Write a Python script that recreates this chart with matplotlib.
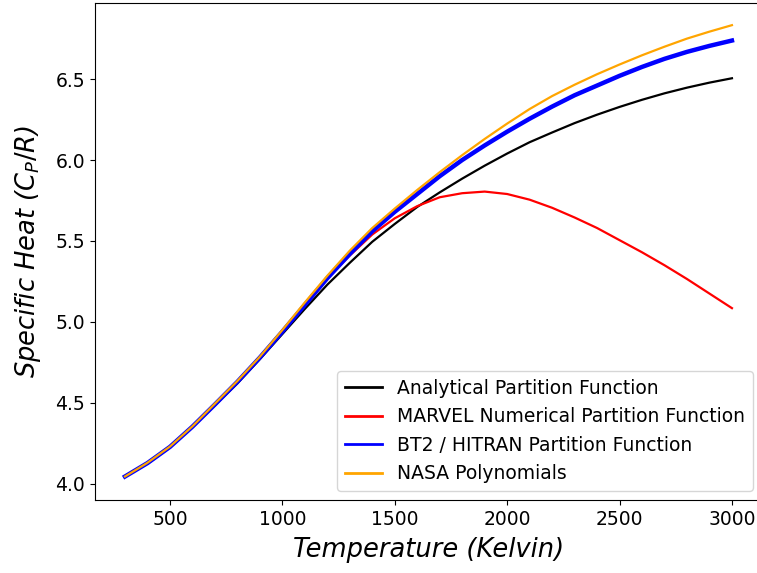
import matplotlib
matplotlib.use('Agg')
import matplotlib.pyplot as plt

# temperature grid (K)
T = [300, 400, 500, 600, 700, 800, 900, 1000, 1100, 1200, 1300, 1400, 1500,
     1600, 1700, 1800, 1900, 2000, 2100, 2200, 2300, 2400, 2500, 2600, 2700,
     2800, 2900, 3000]

# Cp/R
cp_analytical = [4.045, 4.125, 4.225, 4.35, 4.485, 4.62, 4.77, 4.925, 5.08, 5.23,
                 5.365, 5.495, 5.605, 5.71, 5.80, 5.885, 5.965, 6.04, 6.11, 6.17,
                 6.228, 6.28, 6.328, 6.372, 6.412, 6.447, 6.478, 6.505]
cp_marvel = [4.045, 4.128, 4.228, 4.353, 4.49, 4.63, 4.78, 4.94, 5.105, 5.27,
             5.41, 5.54, 5.64, 5.715, 5.77, 5.795, 5.805, 5.79, 5.755, 5.705,
             5.645, 5.58, 5.505, 5.43, 5.35, 5.265, 5.175, 5.085]
cp_bt2 = [4.045, 4.128, 4.228, 4.353, 4.49, 4.63, 4.78, 4.94, 5.105, 5.27,
          5.42, 5.56, 5.68, 5.79, 5.90, 6.00, 6.09, 6.175, 6.255, 6.33,
          6.40, 6.46, 6.52, 6.575, 6.625, 6.668, 6.705, 6.738]
cp_nasa = [4.045, 4.13, 4.23, 4.355, 4.495, 4.635, 4.785, 4.95, 5.12, 5.285,
           5.44, 5.58, 5.70, 5.815, 5.925, 6.03, 6.13, 6.225, 6.315, 6.395,
           6.465, 6.53, 6.59, 6.647, 6.70, 6.75, 6.793, 6.833]

fig = plt.figure(figsize=(7.57, 5.73), dpi=100)
ax = fig.add_axes([0.125, 0.1274, 0.882, 0.8674])

ax.plot(T, cp_analytical, color='black', lw=1.6, label='Analytical Partition Function')
ax.plot(T, cp_marvel, color='red', lw=1.6, label='MARVEL Numerical Partition Function')
ax.plot(T, cp_bt2, color='blue', lw=3.2, label='BT2 / HITRAN Partition Function')
ax.plot(T, cp_nasa, color='orange', lw=1.6, label='NASA Polynomials')

ax.set_xlim(165, 3135)
ax.set_ylim(3.90, 6.97)
ax.set_xticks([500, 1000, 1500, 2000, 2500, 3000])
ax.set_yticks([4.0, 4.5, 5.0, 5.5, 6.0, 6.5])
ax.tick_params(labelsize=13.5)

ax.set_xlabel('Temperature (Kelvin)', fontsize=18.5, style='italic', labelpad=6)
ax.set_ylabel(r'Specific Heat ($C_P/R$)', fontsize=18.5, style='italic', labelpad=9)

leg = ax.legend(loc='lower right', fontsize=13.5)
for line in leg.get_lines():
    line.set_linewidth(2)

fig.savefig('out.png', dpi=100)
